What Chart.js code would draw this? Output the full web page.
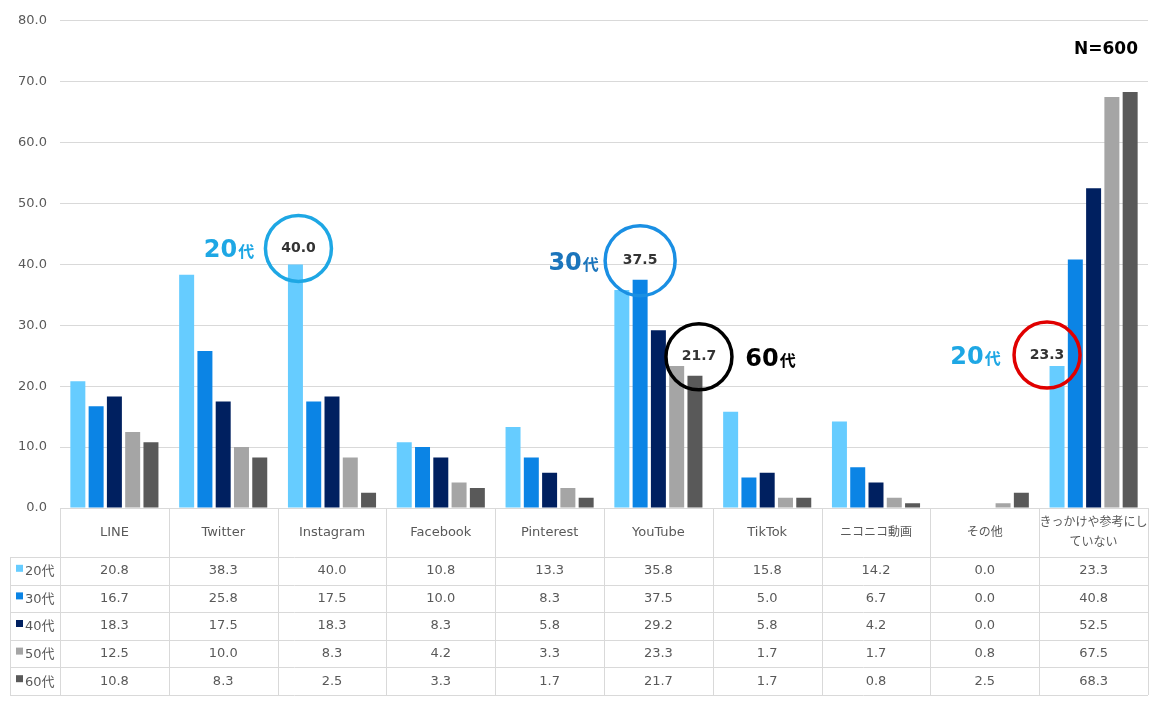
<!DOCTYPE html>
<html lang="ja">
<head>
<meta charset="UTF-8">
<title>きっかけ・参考にしたSNS（年代別）</title>
<script src="https://cdn.jsdelivr.net/npm/chart.js"></script>
<style>
  body { margin: 0; background: #fff; }
  #wrap { width: 1162px; height: 704px; position: relative; }
</style>
</head>
<body>
<div id="wrap"><canvas id="chart"></canvas></div>
<script>
// データ
const categories = ['LINE', 'Twitter', 'Instagram', 'Facebook', 'Pinterest', 'YouTube', 'TikTok', 'ニコニコ動画', 'その他', ['きっかけや参考にし', 'ていない']];
const seriesNames = ['20代', '30代', '40代', '50代', '60代'];
const age20 = [20.8, 38.3, 40.0, 10.8, 13.3, 35.8, 15.8, 14.2, 0.0, 23.3];
const age30 = [16.7, 25.8, 17.5, 10.0, 8.3, 37.5, 5.0, 6.7, 0.0, 40.8];
const age40 = [18.3, 17.5, 18.3, 8.3, 5.8, 29.2, 5.8, 4.2, 0.0, 52.5];
const age50 = [12.5, 10.0, 8.3, 4.2, 3.3, 23.3, 1.7, 1.7, 0.8, 67.5];
const age60 = [10.8, 8.3, 2.5, 3.3, 1.7, 21.7, 1.7, 0.8, 2.5, 68.3];
const sampleNote = 'N=600';

const seriesValues = [age20, age30, age40, age50, age60];
const seriesColors = ['#66CCFF', '#0B84E5', '#002060', '#A5A5A5', '#595959'];

const FONT = "'DejaVu Sans', 'Noto Sans CJK JP', sans-serif";
const TEXT_GRAY = '#595959';
const LINE_GRAY = '#d9d9d9';

// 強調の丸（どの棒に付けるか）
const callouts = [
  { series: 0, cat: 2, dx: 3,  dy: -16, r: 33, ring: '#1ea7e4', tag: '20', tagColor: '#1ea7e4', tagDx: -70 },
  { series: 1, cat: 5, dx: 0,  dy: -19, r: 35, ring: '#1a8fe3', tag: '30', tagColor: '#1b75bc', tagDx: -67 },
  { series: 4, cat: 5, dx: 4,  dy: -19, r: 33, ring: '#000000', tag: '60', tagColor: '#000000', tagDx: 71 },
  { series: 0, cat: 9, dx: -10, dy: -11, r: 33, ring: '#e00000', tag: '20', tagColor: '#1ea7e4', tagDx: -72 }
];

function headerFont(text) {
  return (/^[\x00-\x7f]*$/.test(text) ? '13px ' : '12px ') + FONT;
}

// 下のデータ表
const tablePlugin = {
  id: 'dataTable',
  afterDraw(chart) {
    const ctx = chart.ctx;
    const x = chart.scales.x;
    const area = chart.chartArea;
    const top = area.bottom;
    const headerH = 49;
    const rowH = 27.6;
    const legendLeft = 10;
    const colW = (area.right - area.left) / categories.length;
    const bottom = top + headerH + rowH * seriesNames.length;

    ctx.save();
    ctx.strokeStyle = LINE_GRAY;
    ctx.lineWidth = 1;
    // 横線
    for (let r = 0; r <= seriesNames.length; r++) {
      const y = Math.round(top + headerH + r * rowH) + 0.5;
      ctx.beginPath();
      ctx.moveTo(legendLeft, y);
      ctx.lineTo(area.right, y);
      ctx.stroke();
    }
    // 縦線
    for (let c = 0; c <= categories.length; c++) {
      const xx = Math.round(area.left + c * colW) + 0.5;
      ctx.beginPath();
      ctx.moveTo(xx, top);
      ctx.lineTo(xx, bottom);
      ctx.stroke();
    }
    ctx.beginPath();
    ctx.moveTo(legendLeft + 0.5, top + headerH);
    ctx.lineTo(legendLeft + 0.5, bottom);
    ctx.stroke();

    ctx.fillStyle = TEXT_GRAY;
    ctx.textAlign = 'center';
    ctx.textBaseline = 'middle';
    // 見出し
    categories.forEach((cat, i) => {
      const cx = x.getPixelForValue(i);
      if (Array.isArray(cat)) {
        ctx.font = headerFont(cat[0]);
        ctx.fillText(cat[0], cx, top + headerH / 2 - 10);
        ctx.fillText(cat[1], cx, top + headerH / 2 + 10);
      } else {
        ctx.font = headerFont(cat);
        ctx.fillText(cat, cx, top + headerH / 2);
      }
    });
    // 値
    ctx.font = '13px ' + FONT;
    seriesValues.forEach((vals, s) => {
      const cy = top + headerH + rowH * s + rowH / 2;
      vals.forEach((v, i) => {
        ctx.fillText(v.toFixed(1), x.getPixelForValue(i), cy);
      });
      // 凡例
      ctx.fillStyle = seriesColors[s];
      ctx.fillRect(legendLeft + 6, cy - 6, 7, 7);
      ctx.fillStyle = TEXT_GRAY;
      ctx.textAlign = 'left';
      ctx.fillText(seriesNames[s], legendLeft + 15, cy + 1);
      ctx.textAlign = 'center';
    });
    ctx.restore();
  }
};

const calloutPlugin = {
  id: 'callouts',
  afterDatasetsDraw(chart) {
    const ctx = chart.ctx;
    ctx.save();
    callouts.forEach(c => {
      const bar = chart.getDatasetMeta(c.series).data[c.cat];
      const cx = bar.x + c.dx;
      const cy = bar.y + c.dy;
      ctx.beginPath();
      ctx.arc(cx, cy, c.r, 0, Math.PI * 2);
      ctx.strokeStyle = c.ring;
      ctx.lineWidth = 3.5;
      ctx.stroke();

      ctx.fillStyle = '#333333';
      ctx.font = 'bold 14px ' + FONT;
      ctx.textAlign = 'center';
      ctx.textBaseline = 'middle';
      ctx.fillText(seriesValues[c.series][c.cat].toFixed(1), cx, cy);

      // 年代ラベル
      ctx.font = 'bold 24px ' + FONT;
      const w1 = ctx.measureText(c.tag).width;
      ctx.font = 'bold 16px ' + FONT;
      const w2 = ctx.measureText('代').width;
      const lx = cx + c.tagDx - (w1 + w2) / 2;
      ctx.fillStyle = c.tagColor;
      ctx.textAlign = 'left';
      ctx.textBaseline = 'alphabetic';
      ctx.font = 'bold 24px ' + FONT;
      ctx.fillText(c.tag, lx, cy + 9);
      ctx.font = 'bold 16px ' + FONT;
      ctx.fillText('代', lx + w1 + 1, cy + 9);
    });

    ctx.fillStyle = '#000';
    ctx.font = 'bold 17px ' + FONT;
    ctx.textAlign = 'right';
    ctx.textBaseline = 'middle';
    ctx.fillText(sampleNote, 1138, 50);
    ctx.restore();
  }
};

new Chart(document.getElementById('chart'), {
  type: 'bar',
  data: {
    labels: categories,
    datasets: seriesNames.map((name, s) => ({
      label: name,
      data: seriesValues[s],
      backgroundColor: seriesColors[s],
      borderWidth: 0,
      categoryPercentage: 0.84,
      barPercentage: 0.82
    }))
  },
  options: {
    responsive: true,
    maintainAspectRatio: false,
    animation: false,
    devicePixelRatio: 1,
    layout: { padding: { top: 16, right: 14, bottom: 196, left: 0 } },
    plugins: {
      legend: { display: false },
      tooltip: { enabled: false }
    },
    scales: {
      x: { display: false },
      y: {
        min: 0,
        max: 80,
        ticks: {
          stepSize: 10,
          color: TEXT_GRAY,
          font: { family: FONT, size: 13 },
          padding: 13,
          callback: v => v.toFixed(1)
        },
        grid: { color: LINE_GRAY, drawTicks: false },
        border: { display: false },
        afterFit(scale) { scale.width = 60; }
      }
    }
  },
  plugins: [tablePlugin, calloutPlugin]
});
</script>
</body>
</html>
